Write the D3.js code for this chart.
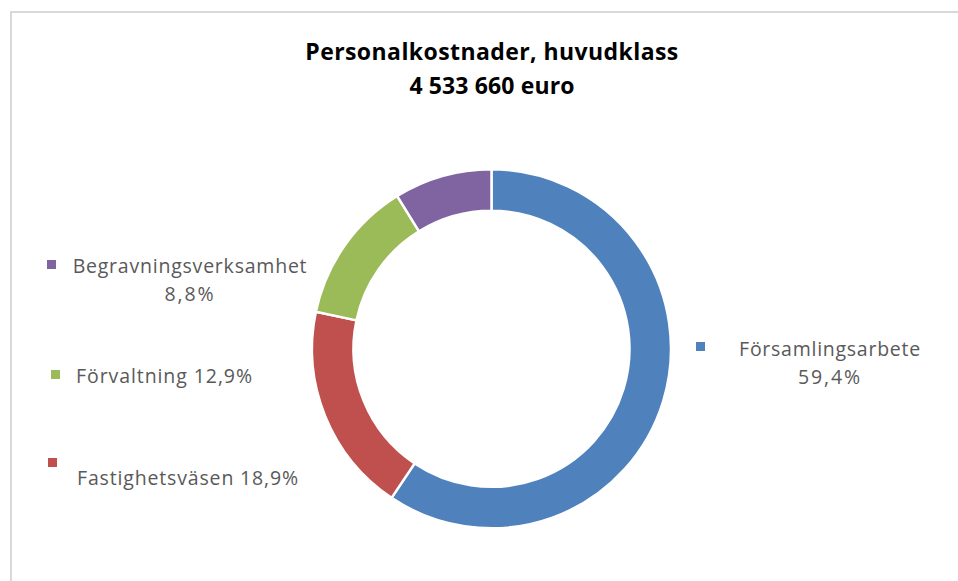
<!DOCTYPE html>
<html>
<head>
<meta charset="utf-8">
<script src="https://cdn.jsdelivr.net/npm/d3@7"></script>
<style>
  html, body { margin: 0; padding: 0; background: #fff; }
  svg { display: block; }
</style>
</head>
<body>
<script>
// ---- data ----
const categories = ["Församlingsarbete", "Fastighetsväsen", "Förvaltning", "Begravningsverksamhet"];
const values = [59.4, 18.9, 12.9, 8.8];
const labelTexts = [["Församlingsarbete", "59,4%"], ["Fastighetsväsen 18,9%"], ["Förvaltning 12,9%"], ["Begravningsverksamhet", "8,8%"]];
const colors = ["#4F81BD", "#C0504D", "#9BBB59", "#8064A2"];
const titleLines = ["Personalkostnader, huvudklass", "4 533 660 euro"];

const W = 958, H = 581;
const svg = d3.select("body").append("svg").attr("width", W).attr("height", H);

// frame
svg.append("rect").attr("x", 11).attr("y", 12).attr("width", W).attr("height", H)
  .attr("fill", "#fff").attr("stroke", "#d9d9d9").attr("stroke-width", 2);

// fit a text element to a target width by adjusting spacing
function fit(sel, w) {
  const n = sel.node();
  const cur = n.getComputedTextLength();
  const chars = n.textContent.length;
  if (chars > 1) sel.attr("letter-spacing", ((w - cur) / (chars - 1)).toFixed(2));
}

// title
const titleWidths = [373, 165];
titleLines.forEach((t, i) => {
  const s = svg.append("text").attr("text-anchor", "middle")
    .attr("x", 492).attr("y", 60 + i * 34)
    .attr("font-family", "'Open Sans', Lato, sans-serif").attr("font-weight", "bold")
    .attr("font-size", 23).attr("fill", "#000").text(t);
  fit(s, titleWidths[i]);
});

// donut
const cx = 491.5, cy = 348.8, rOuter = 179.5, rInner = 138;
const pie = d3.pie().sort(null).value(d => d.value);
const arcs = pie(categories.map((c, i) => ({ name: c, value: values[i], color: colors[i] })));
const arc = d3.arc().innerRadius(rInner).outerRadius(rOuter);
const g = svg.append("g").attr("transform", `translate(${cx},${cy})`);
g.selectAll("path").data(arcs).join("path")
  .attr("d", arc).attr("fill", d => d.data.color)
  .attr("stroke", "#fff").attr("stroke-width", 2.5).attr("stroke-linejoin", "round");

// labels (layout: marker position, text x, first baseline, alignment, target widths)
const labelLayout = [
  { mx: 696, my: 342, tx: 830, ty: 356, anchor: "middle", w: [181, 62] },
  { mx: 48, my: 458, tx: 77, ty: 485, anchor: "start", w: [221] },
  { mx: 51, my: 370, tx: 76, ty: 383, anchor: "start", w: [176] },
  { mx: 47, my: 260, tx: 190, ty: 273, anchor: "middle", w: [234, 49] }
];
categories.forEach((c, i) => {
  const L = labelLayout[i];
  svg.append("rect").attr("x", L.mx).attr("y", L.my).attr("width", 9).attr("height", 9)
    .attr("fill", colors[i]);
  labelTexts[i].forEach((s, j) => {
    const t = svg.append("text").attr("text-anchor", L.anchor)
      .attr("x", L.tx).attr("y", L.ty + j * 28)
      .attr("font-family", "'Open Sans', Lato, sans-serif").attr("font-size", 19.5)
      .attr("fill", "#595959").text(s);
    fit(t, L.w[j]);
  });
});
</script>
</body>
</html>
